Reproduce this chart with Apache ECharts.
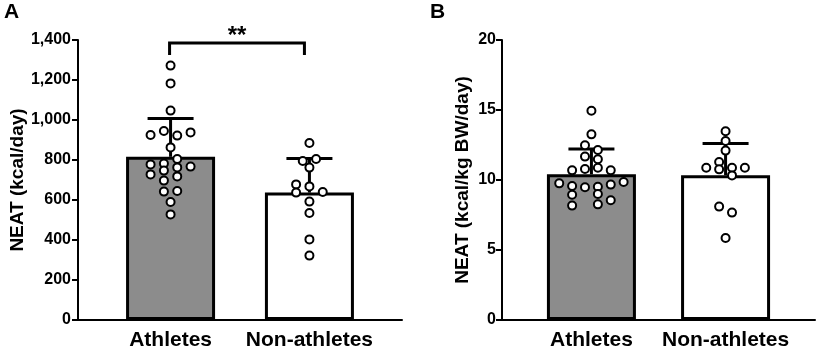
<!DOCTYPE html>
<html>
<head>
<meta charset="utf-8">
<script src="https://cdn.jsdelivr.net/npm/echarts@6/dist/echarts.min.js"></script>
<style>
  html, body { margin: 0; padding: 0; background: #fff; }
  #main { width: 818px; height: 353px; }
</style>
</head>
<body>
<div id="main"></div>
<script>
// 组别
const groups = ['Athletes', 'Non-athletes']

// A: NEAT (kcal/day) 均值、SD
const kcalMean = [816, 637]
const kcalSd = [192, 171]
// A: 个体数据点 + 所在列(蜂群图列号)
const kcalAthletes = [1272, 1183, 1047, 925, 945, 922, 938, 863, 805, 778, 782, 763, 767, 728, 747, 718, 697, 642, 645, 590, 528]
const kcalAthletesCol = [0, 0, 0, -3, -1, 1, 3, 0, 1, -3, -1, 1, 3, -3, -1, 1, -1, -1, 1, 0, 0]
const kcalNon = [885, 795, 805, 762, 678, 668, 637, 640, 592, 535, 403, 322]
const kcalNonCol = [0, -1, 1, 0, -2, 0, -2, 2, 0, 0, 0, 0]

// B: NEAT (kcal/kg BW/day)
const kgMean = [10.41, 10.34]
const kgSd = [1.8, 2.26]
const kgAthletes = [14.95, 13.26, 12.48, 12.14, 11.67, 11.48, 10.69, 10.79, 10.88, 10.69, 9.76, 9.57, 9.48, 9.52, 9.67, 9.86, 8.95, 9.0, 8.55, 8.17, 8.26]
const kgAthletesCol = [0, 0, -1, 1, -1, 1, -3, -1, 1, 3, -5, -3, -1, 1, 3, 5, -3, 1, 3, -3, 1]
const kgNon = [13.48, 12.79, 12.10, 11.29, 10.76, 10.88, 10.88, 10.88, 10.33, 8.10, 7.67, 5.86]
const kgNonCol = [0, 0, 0, -1, -1, -3, 1, 3, 1, -1, 1, 0]

// 显著性标注
const sigPairs = [[0, 1, '**']]

const FONT = 'Liberation Sans, Arial, sans-serif'
// 组在x轴上的位置
const xpos = i => 1 + 1.5 * i
const COL = 0.072

const fills = ['#8c8c8c', '#ffffff']

function barData(means) {
  return means.map((m, i) => ({
    value: [xpos(i), m],
    itemStyle: { color: fills[i], borderColor: '#000', borderWidth: 3, opacity: 1 }
  }))
}
function errData(means, sds) {
  return means.map((m, i) => [xpos(i), m, sds[i]])
}
function dotData(vals, cols, g) {
  return vals.map((v, i) => [xpos(g) + cols[i] * COL, v])
}

function errorBar(params, api) {
  const x = api.value(0)
  const base = api.coord([x, api.value(1)])
  const top = api.coord([x, api.value(1) + api.value(2)])
  const half = 23
  const st = { stroke: '#000', lineWidth: 3 }
  return {
    type: 'group',
    children: [
      { type: 'line', shape: { x1: base[0], y1: base[1], x2: top[0], y2: top[1] }, style: st },
      { type: 'line', shape: { x1: top[0] - half, y1: top[1], x2: top[0] + half, y2: top[1] }, style: st }
    ]
  }
}

function bracket(params, api) {
  const p = sigPairs[params.dataIndex]
  const yTop = api.coord([0, 1400])[1] + 3
  const x1 = api.coord([xpos(p[0]), 0])[0] - 1
  const x2 = api.coord([xpos(p[1]), 0])[0] - 5
  const st = { stroke: '#000', lineWidth: 3, fill: null }
  return {
    type: 'group',
    children: [
      { type: 'polyline', shape: { points: [[x1, yTop + 12], [x1, yTop], [x2, yTop], [x2, yTop + 12]] }, style: st },
      { type: 'text', style: { text: p[2], x: (x1 + x2) / 2, y: yTop + 5, align: 'center', verticalAlign: 'bottom', font: 'bold 24px ' + FONT, fill: '#000' } }
    ]
  }
}

function xAxis(gridIndex) {
  return {
    type: 'value', gridIndex, min: 0, max: 3.5, interval: 0.5,
    splitLine: { show: false },
    axisTick: { show: false },
    axisLine: { lineStyle: { color: '#000', width: 2 } },
    axisLabel: {
      color: '#000', fontFamily: FONT, fontWeight: 'bold', fontSize: 21, margin: 10,
      formatter: v => {
        const i = groups.findIndex((g, k) => Math.abs(xpos(k) - v) < 1e-6)
        return i >= 0 ? groups[i] : ''
      }
    }
  }
}

function yAxis(gridIndex, max, interval, name, nameGap, margin, fmt) {
  return {
    type: 'value', gridIndex, min: 0, max, interval,
    name, nameLocation: 'middle', nameGap,
    nameTextStyle: { color: '#000', fontFamily: FONT, fontWeight: 'bold', fontSize: 19 },
    splitLine: { show: false },
    axisLine: { show: true, lineStyle: { color: '#000', width: 2 } },
    axisTick: { show: true, length: 6, lineStyle: { color: '#000', width: 2 } },
    axisLabel: { color: '#000', fontFamily: FONT, fontWeight: 'bold', fontSize: 16, margin, formatter: fmt }
  }
}

function panelSeries(idx, means, sds, athletes, athletesCol, non, nonCol) {
  const dotStyle = { color: '#fff', borderColor: '#000', borderWidth: 2, opacity: 1 }
  return [
    { type: 'bar', xAxisIndex: idx, yAxisIndex: idx, barWidth: 89, data: barData(means), z: 2 },
    { type: 'custom', xAxisIndex: idx, yAxisIndex: idx, renderItem: errorBar, data: errData(means, sds), z: 3, clip: false },
    { type: 'scatter', xAxisIndex: idx, yAxisIndex: idx, symbolSize: 8, itemStyle: dotStyle, data: dotData(athletes, athletesCol, 0), z: 4 },
    { type: 'scatter', xAxisIndex: idx, yAxisIndex: idx, symbolSize: 8, itemStyle: dotStyle, data: dotData(non, nonCol, 1), z: 4 }
  ]
}

const option = {
  animation: false,
  backgroundColor: '#fff',
  title: [
    { text: 'A', left: 4, top: 2, padding: 0, textStyle: { fontFamily: FONT, fontWeight: 'bold', fontSize: 21, color: '#000' } },
    { text: 'B', left: 430, top: 2, padding: 0, textStyle: { fontFamily: FONT, fontWeight: 'bold', fontSize: 21, color: '#000' } }
  ],
  grid: [
    { left: 78, right: 416, top: 40, bottom: 33 },
    { left: 502, right: 1, top: 40, bottom: 33 }
  ],
  xAxis: [xAxis(0), xAxis(1)],
  yAxis: [
    yAxis(0, 1400, 200, 'NEAT (kcal/day)', 50, 7, v => v.toLocaleString('en-US')),
    yAxis(1, 20, 5, 'NEAT (kcal/kg BW/day)', 30, 6)
  ],
  series: [
    ...panelSeries(0, kcalMean, kcalSd, kcalAthletes, kcalAthletesCol, kcalNon, kcalNonCol),
    ...panelSeries(1, kgMean, kgSd, kgAthletes, kgAthletesCol, kgNon, kgNonCol),
    { type: 'custom', xAxisIndex: 0, yAxisIndex: 0, renderItem: bracket, data: sigPairs.map(() => [0, 0]), z: 5, clip: false }
  ]
}

const chart = echarts.init(document.getElementById('main'))
chart.setOption(option)
window.addEventListener('resize', chart.resize)
</script>
</body>
</html>
